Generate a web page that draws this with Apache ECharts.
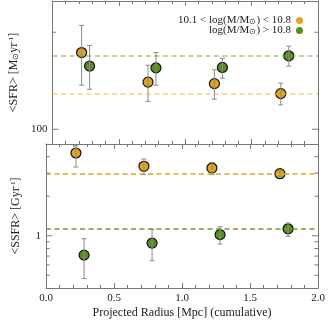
<!DOCTYPE html>
<html><head><meta charset="utf-8">
<script src="https://cdn.jsdelivr.net/npm/echarts@6/dist/echarts.min.js"></script>
<style>html,body{margin:0;padding:0;background:#fff}#c{width:335px;height:325px}</style>
</head><body><div id="c"></div>
<script>
// ---- data ----
const radiusOrange = [0.22, 0.72, 1.22, 1.72];
const radiusGreen  = [0.28, 0.78, 1.28, 1.78];
const sfrOrange    = [173, 140, 138.5, 129];
const sfrOrangeLo  = [137, 122, 124, 119];
const sfrOrangeHi  = [210, 158, 153, 139];
const sfrGreen     = [157, 155, 155.5, 169];
const sfrGreenLo   = [133, 137, 144, 157];
const sfrGreenHi   = [182, 173, 166, 181];
const sfrMeanOrange = 129, sfrMeanGreen = 169;
const ssfrOrange   = [4.27, 3.38, 3.28, 2.97];
const ssfrOrangeLo = [3.34, 2.92, 2.92, 2.81];
const ssfrOrangeHi = [4.85, 3.84, 3.62, 3.13];
const ssfrGreen    = [0.712, 0.879, 1.02, 1.13];
const ssfrGreenLo  = [0.472, 0.646, 0.864, 0.99];
const ssfrGreenHi  = [0.95, 1.117, 1.17, 1.25];
const ssfrMeanOrange = 2.97, ssfrMeanGreen = 1.13;
const xTickLabels = ['0.0','0.5','1.0','1.5','2.0'];
const sfrMajorTicks = [100];
const sfrMinorTicks = [200];
const ssfrMajorTicks = [1];
const ssfrMinorTicks = [0.5, 0.6, 0.7, 0.8, 0.9, 2, 3, 4];
const nameOrange = '10.1 < log(M/M⊙) < 10.8';
const nameGreen = 'log(M/M⊙) > 10.8';

// ---- style ----
const FONT = 'Liberation Serif';
const ORANGE = '#E3A41B', GREEN = '#5B8C1F';
const FRAME = '#777', TXT = '#222';
const subRich = {
  sub: {fontSize: 8, fontFamily: FONT, color: TXT, verticalAlign: 'bottom', lineHeight: 9, padding:[3,0,0,0]},
  sup: {fontSize: 7, fontFamily: FONT, color: TXT, verticalAlign: 'top', lineHeight: 8, padding:[0,0,4,0]}
};

function xAxis(grid, pos, labels) {
  return {
    type: 'value', gridIndex: grid, position: pos, min: 0, max: 2, interval: 0.5,
    axisLine: {show: true, onZero: false, lineStyle: {color: FRAME, width: 1}},
    axisTick: {show: true, inside: true, length: 5, lineStyle: {color: FRAME}},
    minorTick: {show: true, splitNumber: 5, length: 3, lineStyle: {color: FRAME}},
    splitLine: {show: false},
    axisLabel: {show: labels, margin: 5, fontFamily: FONT, fontSize: 11, color: TXT,
      formatter: v => xTickLabels[Math.round(v / 0.5)]},
    name: labels ? 'Projected Radius [Mpc] (cumulative)' : '',
    nameLocation: 'middle', nameGap: 19,
    nameTextStyle: {fontFamily: FONT, fontSize: 12, color: TXT}
  };
}
function yAxis(grid, pos, min, max, majors, name) {
  const left = pos === 'left';
  return {
    type: 'log', gridIndex: grid, position: pos, min: min, max: max, logBase: 10,
    axisLine: {show: true, onZero: false, lineStyle: {color: FRAME, width: 1}},
    axisTick: {show: false},
    splitLine: {show: false},
    axisLabel: {show: left, showMinLabel: false, showMaxLabel: false, margin: 5,
      fontFamily: FONT, fontSize: 11, color: TXT,
      formatter: v => majors.some(m => Math.abs(m - v) / m < 1e-6) ? String(v) : ''},
    name: left ? name : '', nameLocation: 'middle', nameRotate: 90, nameGap: 24,
    nameTextStyle: {fontFamily: FONT, fontSize: 12, color: TXT, rich: subRich}
  };
}
function ticksSeries(grid, values, len) {
  return {
    type: 'custom', xAxisIndex: grid * 2, yAxisIndex: grid * 2, silent: true, z: 5,
    data: values.map(v => [0, v]),
    renderItem: (params, api) => {
      const cs = params.coordSys;
      const y = api.coord([0, api.value(1)])[1];
      const st = {stroke: FRAME, lineWidth: 1};
      return {type: 'group', children: [
        {type: 'line', shape: {x1: cs.x, y1: y, x2: cs.x + len, y2: y}, style: st},
        {type: 'line', shape: {x1: cs.x + cs.width - len, y1: y, x2: cs.x + cs.width, y2: y}, style: st}
      ]};
    }
  };
}
function errSeries(grid, xs, lo, hi) {
  return {
    type: 'custom', xAxisIndex: grid * 2, yAxisIndex: grid * 2, silent: true, z: 4,
    data: xs.map((x, i) => [x, lo[i], hi[i]]),
    renderItem: (params, api) => {
      const a = api.coord([api.value(0), api.value(1)]);
      const b = api.coord([api.value(0), api.value(2)]);
      const st = {stroke: '#8a8a8a', lineWidth: 1};
      const w = 2.5;
      return {type: 'group', children: [
        {type: 'line', shape: {x1: a[0], y1: a[1], x2: b[0], y2: b[1]}, style: st},
        {type: 'line', shape: {x1: a[0] - w, y1: a[1], x2: a[0] + w, y2: a[1]}, style: st},
        {type: 'line', shape: {x1: b[0] - w, y1: b[1], x2: b[0] + w, y2: b[1]}, style: st}
      ]};
    }
  };
}
function scatter(grid, name, xs, ys, color, mean, meanColor) {
  return {
    type: 'scatter', name: name, xAxisIndex: grid * 2, yAxisIndex: grid * 2, z: 3,
    data: xs.map((x, i) => [x, ys[i]]), symbol: 'circle', symbolSize: 10,
    itemStyle: {color: color, borderColor: '#111', borderWidth: 1.2, opacity: 1},
    markLine: {silent: true, symbol: 'none', label: {show: false}, animation: false,
      lineStyle: {type: [5, 3.5], color: meanColor, width: 1.5},
      data: [{yAxis: mean}]}
  };
}

const chart = echarts.init(document.getElementById('c'), null, {renderer: 'canvas'});
chart.setOption({
  animation: false,
  backgroundColor: '#fff',
  grid: [
    {left: 46, right: 17, top: 1, height: 143},
    {left: 46, right: 17, top: 144, height: 144}
  ],
  xAxis: [xAxis(0, 'bottom', false), xAxis(0, 'top', false), xAxis(1, 'bottom', true), xAxis(1, 'top', false)],
  yAxis: [
    yAxis(0, 'left', 90, 250, sfrMajorTicks, '<SFR> [M{sub|⊙}yr{sup|-1}]'),
    yAxis(0, 'right', 90, 250, sfrMajorTicks, ''),
    yAxis(1, 'left', 0.4, 5, ssfrMajorTicks, '<SSFR> [Gyr{sup|-1}]'),
    yAxis(1, 'right', 0.4, 5, ssfrMajorTicks, '')
  ],
  legend: {
    orient: 'vertical', right: 27, top: 10, align: 'right', itemGap: -1,
    itemWidth: 7, itemHeight: 7, icon: 'circle',
    data: [nameOrange, nameGreen],
    itemStyle: {borderWidth: 0},
    textStyle: {fontFamily: FONT, fontSize: 11, color: TXT, rich: subRich},
    formatter: n => n.replace('⊙', '{sub|⊙}')
  },
  series: [
    scatter(0, nameOrange, radiusOrange, sfrOrange, ORANGE, sfrMeanOrange, 'rgba(235,180,60,0.6)'),
    scatter(0, nameGreen, radiusGreen, sfrGreen, GREEN, sfrMeanGreen, 'rgba(110,160,50,0.6)'),
    errSeries(0, radiusOrange, sfrOrangeLo, sfrOrangeHi),
    errSeries(0, radiusGreen, sfrGreenLo, sfrGreenHi),
    ticksSeries(0, sfrMajorTicks, 6),
    ticksSeries(0, sfrMinorTicks, 3.5),
    scatter(1, nameOrange, radiusOrange, ssfrOrange, ORANGE, ssfrMeanOrange, '#E3A41B'),
    scatter(1, nameGreen, radiusGreen, ssfrGreen, GREEN, ssfrMeanGreen, '#6E9A3A'),
    errSeries(1, radiusOrange, ssfrOrangeLo, ssfrOrangeHi),
    errSeries(1, radiusGreen, ssfrGreenLo, ssfrGreenHi),
    ticksSeries(1, ssfrMajorTicks, 6),
    ticksSeries(1, ssfrMinorTicks, 3.5)
  ]
});
</script></body></html>
